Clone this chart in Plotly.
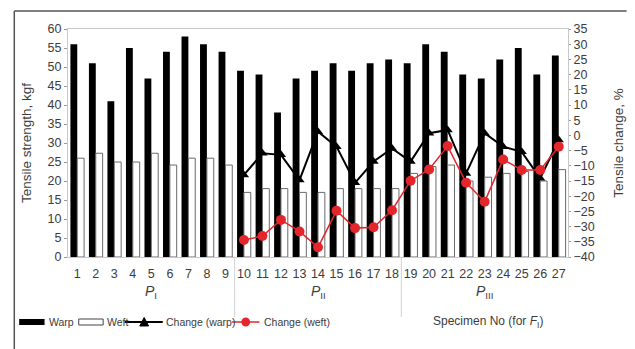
import plotly.graph_objects as go

# Specimen numbers and measured values
specimens = list(range(1, 28))
warp_strength = [56, 51, 41, 55, 47, 54, 58, 56, 54,
                 49, 48, 38, 47, 49, 51, 49, 51, 52,
                 51, 56, 54, 48, 47, 52, 55, 48, 53]
weft_strength = [26, 27.3, 25, 25, 27.3, 24.2, 26, 26, 24.2,
                 17, 18, 18, 17, 17, 18, 18, 18, 18,
                 22, 23.8, 24.2, 20, 21, 22, 22.5, 20, 23]
change_warp_ids = list(range(10, 28))
change_warp = [-13, -5.9, -6.4, -14.7, 1.2, -3.7, -15.6, -8.6, -4.3,
               -8.6, 0.7, 1.8, -12.5, 0.7, -3.7, -5.4, -14.1, -1.5]
change_weft = [-34.4, -33.1, -27.8, -31.6, -36.8, -24.8, -30.5, -30.2, -24.6,
               -14.9, -11.2, -3.5, -15.6, -21.8, -7.9, -11.4, -11.4, -3.7]
group_labels = ["<i>P</i><sub>I</sub>", "<i>P</i><sub>II</sub>", "<i>P</i><sub>III</sub>"]
group_centers = [5, 14, 23]
group_bounds = [9.5, 18.5]

FONT = "Liberation Sans, Arial, sans-serif"
TXT = "#3c3c3c"
RED = "#e3262b"

W, H = 635, 349
L, R, T, B = 68, 580, 29, 257  # plot area in pixels


def px(x):
    return (x - L) / (R - L)


def py(y):
    return (B - y) / (B - T)


fig = go.Figure()
fig.add_trace(go.Bar(x=specimens, y=warp_strength, name="Warp",
                     marker=dict(color="black", line=dict(width=0))))
fig.add_trace(go.Bar(x=specimens, y=weft_strength, name="Weft",
                     marker=dict(color="white", line=dict(color="#6a6a6a", width=1))))
fig.add_trace(go.Scatter(x=change_warp_ids, y=change_warp, name="Change (warp)",
                         yaxis="y2", mode="lines+markers",
                         line=dict(color="black", width=2),
                         marker=dict(symbol="triangle-up", size=9, color="black")))
fig.add_trace(go.Scatter(x=change_warp_ids, y=change_weft, name="Change (weft)",
                         yaxis="y2", mode="lines+markers",
                         line=dict(color=RED, width=1.5),
                         marker=dict(symbol="circle", size=10, color=RED)))

shapes = []
# outer frame (top and left edges)
shapes.append(dict(type="line", xref="paper", yref="paper",
                   x0=px(13), x1=px(640), y0=py(11), y1=py(11),
                   line=dict(color="#555", width=1.5)))
shapes.append(dict(type="line", xref="paper", yref="paper",
                   x0=px(13), x1=px(13), y0=py(11), y1=py(352),
                   line=dict(color="#555", width=1.5)))
# group separators below the category axis
for gb in group_bounds:
    shapes.append(dict(type="line", xref="x", yref="paper",
                       x0=gb, x1=gb, y0=0, y1=py(317),
                       line=dict(color="#d0d0d0", width=1)))

annotations = []
for lab, c in zip(group_labels, group_centers):
    annotations.append(dict(x=c, y=py(303), xref="x", yref="paper", text=lab,
                            showarrow=False, font=dict(family=FONT, size=14, color=TXT)))

# legend row
ly = 322
LEG = 10.5
shapes.append(dict(type="rect", xref="paper", yref="paper",
                   x0=px(18), x1=px(44), y0=py(325), y1=py(319),
                   fillcolor="black", line=dict(width=0)))
shapes.append(dict(type="rect", xref="paper", yref="paper",
                   x0=px(79), x1=px(104), y0=py(325), y1=py(319),
                   fillcolor="white", line=dict(color="#444", width=1)))
shapes.append(dict(type="line", xref="paper", yref="paper",
                   x0=px(126), x1=px(165), y0=py(ly), y1=py(ly),
                   line=dict(color="black", width=2)))
shapes.append(dict(type="line", xref="paper", yref="paper",
                   x0=px(236), x1=px(264), y0=py(ly), y1=py(ly),
                   line=dict(color=RED, width=1.5)))
# legend glyphs: triangle and dot
tri = "M {:.5f},{:.5f} L {:.5f},{:.5f} L {:.5f},{:.5f} Z".format(
    px(141.5), py(326), px(150.5), py(326), px(146), py(317.5))
shapes.append(dict(type="path", xref="paper", yref="paper", path=tri,
                   fillcolor="black", line=dict(color="black", width=1)))
shapes.append(dict(type="circle", xref="paper", yref="paper",
                   x0=px(245.5), x1=px(254.5), y0=py(326.5), y1=py(317.5),
                   fillcolor=RED, line=dict(color=RED, width=0)))
for text, x0 in [("Warp", 46), ("Weft", 106), ("Change (warp)", 166), ("Change (weft)", 267)]:
    annotations.append(dict(x=px(x0), y=py(ly), xref="paper", yref="paper", text=text,
                            xanchor="left", yanchor="middle", showarrow=False,
                            font=dict(family=FONT, size=LEG, color=TXT)))
annotations.append(dict(x=px(440), y=py(ly), xref="paper", yref="paper",
                        text="Specimen No (for <i>F</i><sub>I</sub>)",
                        xanchor="left", yanchor="middle", showarrow=False,
                        font=dict(family=FONT, size=12, color=TXT)))

fig.update_layout(
    width=W, height=H,
    margin=dict(l=L, r=W - R, t=T, b=H - B, pad=0),
    paper_bgcolor="white", plot_bgcolor="white",
    barmode="group", bargap=0.26, bargroupgap=0,
    showlegend=False,
    font=dict(family=FONT, size=12, color=TXT),
    xaxis=dict(range=[0.5, 27.5], tickmode="array", tickvals=specimens,
               ticktext=[str(s) for s in specimens], showgrid=False,
               showline=True, linecolor="#c8c8c8", mirror=True, ticks="",
               ticklabelstandoff=5,
               tickfont=dict(size=12.5), zeroline=False),
    yaxis=dict(range=[0, 60], dtick=5, showgrid=False, showline=True,
               linecolor="#c8c8c8", ticks="outside", ticklen=3, tickcolor="#999",
               tickfont=dict(size=12.5), zeroline=False,
               title=dict(text="Tensile strength, kgf", font=dict(size=13.5), standoff=12)),
    yaxis2=dict(range=[-40, 35], dtick=5, overlaying="y", side="right",
                showgrid=False, showline=True, linecolor="#c8c8c8",
                ticks="outside", ticklen=2, tickcolor="#999",
                tickfont=dict(size=12.5), zeroline=False,
                title=dict(text="Tensile change, %", font=dict(size=13.5), standoff=19)),
    shapes=shapes, annotations=annotations,
)

fig.write_html("out.html")
